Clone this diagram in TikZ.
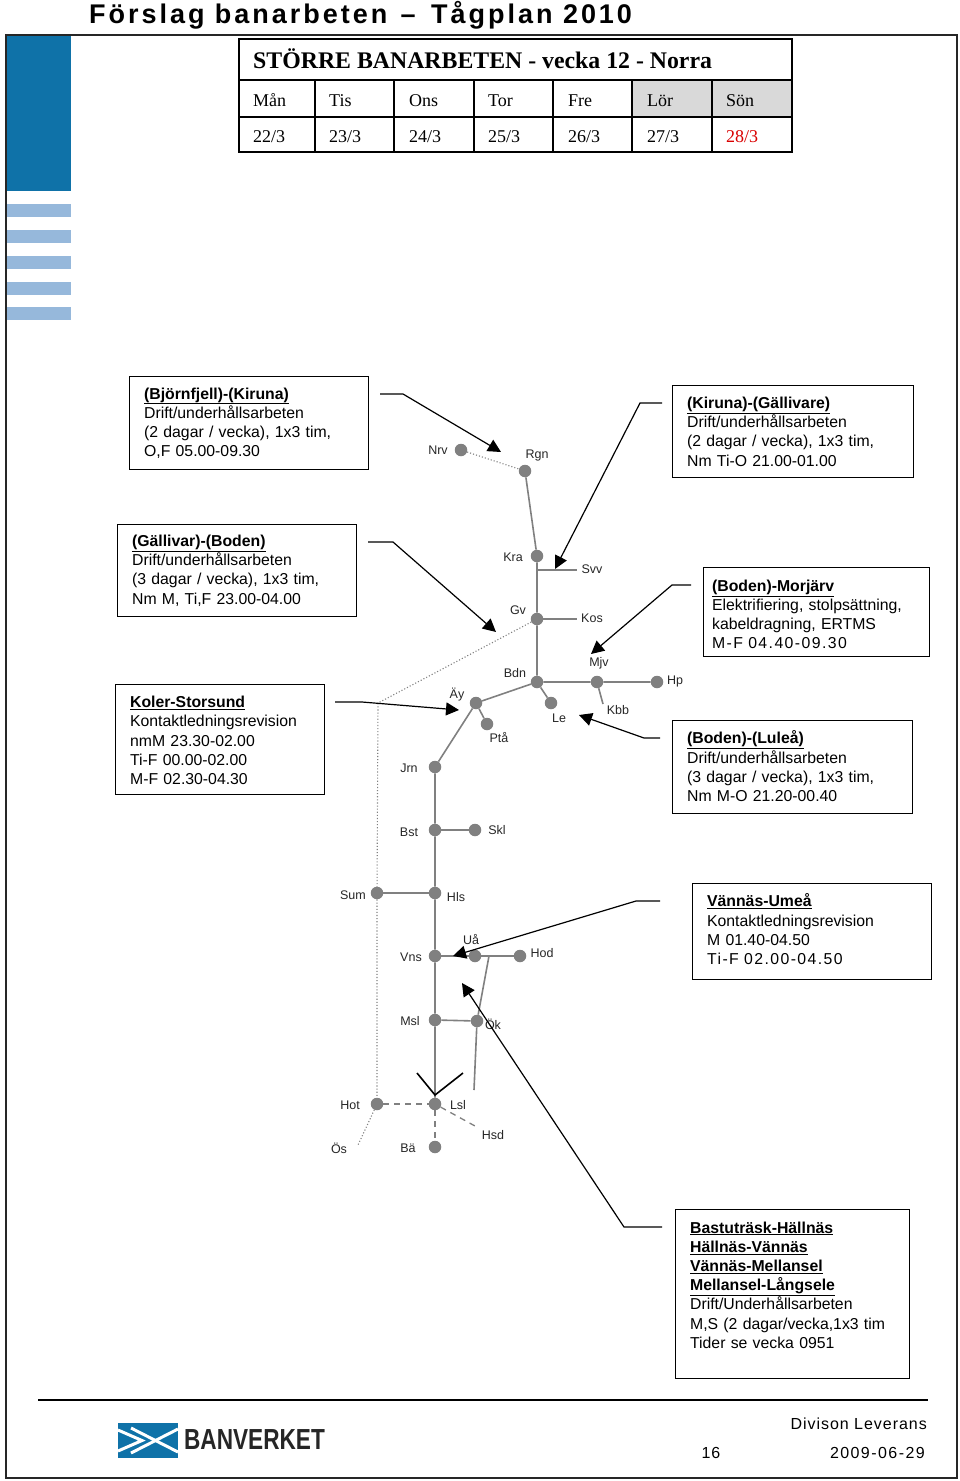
\documentclass[tikz,border=0pt]{standalone}
\usepackage{fontspec}
\setmainfont{Liberation Sans}
\newfontfamily\serifface{Liberation Serif}
\newfontfamily\titleface[LetterSpace=11]{Liberation Sans}
\newfontfamily\spacedface[LetterSpace=9]{Liberation Sans}
\newfontfamily\footface[LetterSpace=6]{Liberation Sans}
\usetikzlibrary{arrows.meta}
\definecolor{banblue}{RGB}{15,114,168}
\definecolor{banpale}{RGB}{150,184,219}
\definecolor{bangray}{RGB}{128,128,128}
\begin{document}
\begin{tikzpicture}[x=1pt,y=-1pt,>={Triangle[length=13pt,width=13pt]},
box/.style={draw=black,line width=1.2pt,anchor=north west,align=left,inner xsep=14.5pt,inner ysep=0pt,font=\fontsize{15.8}{19.2}\selectfont},
stn/.style={circle,fill=bangray,inner sep=0pt,minimum size=12.5pt},
lbl/.style={inner sep=0pt,font=\fontsize{12.5}{15}\selectfont,text=black!85},
track/.style={draw=bangray,line width=1.6pt},
thin dots/.style={draw=bangray,line width=1.1pt,dotted},
thin dash/.style={draw=bangray,line width=1.3pt,dash pattern=on 6pt off 5pt},
callout/.style={->,line width=1.2pt,black},
cell/.style={inner sep=0pt,anchor=base west,font=\serifface\fontsize{18}{20}\selectfont}]
\useasboundingbox (0,0) rectangle (960,1481);
% page
\node[inner sep=0pt,anchor=base west,font=\titleface\bfseries\fontsize{27}{30}\selectfont] (title) at (89,23) {Förslag banarbeten\hspace{3pt} –\hspace{5pt} Tågplan 2010};
\draw[line width=1.6pt,black!85] (6,35) rectangle (957,1478);
\fill[banblue] (7,36) rectangle (71,191);
\foreach \y in {204,230,256,282,307}
  \fill[banpale] (7,\y) rectangle (71,\y+13);
% week table
\fill[black!15] (632,80) rectangle (792,117);
\draw[line width=1.7pt] (239,39) rectangle (792,152) (239,80) -- (792,80) (239,117) -- (792,117);
\foreach \x in {315,394,474,553,632,712}
  \draw[line width=1.7pt] (\x,80) -- (\x,152);
\node[cell,font=\serifface\bfseries\fontsize{23.8}{26}\selectfont] (week) at (253,68) {STÖRRE BANARBETEN - vecka 12 - Norra};
\foreach \d/\x/\t in {mon/253/Mån,tue/329/Tis,wed/409/Ons,thu/488/Tor,fri/568/Fre,sat/647/Lör,sun/726/Sön}
  \node[cell] (\d) at (\x,106) {\t};
\foreach \d/\x/\t in {a/253/22,b/329/23,c/409/24,d/488/25,e/568/26,f/647/27}
  \node[cell] (date\d) at (\x,142) {\t/3};
\node[cell,text=red!85!black] (dateg) at (726,142) {28/3};
% text boxes
\node[box,text width=210pt,minimum height=93pt] (bjorn) at (129,376) {\underline{\textbf{(Björnfjell)-(Kiruna)}}\\Drift/underhållsarbeten\\(2 dagar / vecka), 1x3 tim,\\O,F 05.00-09.30};
\node[box,text width=212pt,minimum height=92pt] (kiruna) at (672,385) {\underline{\textbf{(Kiruna)-(Gällivare)}}\\Drift/underhållsarbeten\\(2 dagar / vecka), 1x3 tim,\\Nm Ti-O 21.00-01.00};
\node[box,text width=210pt,minimum height=92pt] (galliv) at (117,524) {\underline{\textbf{(Gällivar)-(Boden)}}\\Drift/underhållsarbeten\\(3 dagar / vecka), 1x3 tim,\\Nm M, Ti,F 23.00-04.00};
\node[box,text width=180pt,minimum height=110pt] (koler) at (115,684) {\rule{0pt}{13pt}\underline{\textbf{Koler-Storsund}}\\Kontaktledningsrevision\\nmM 23.30-02.00\\Ti-F 00.00-02.00\\M-F 02.30-04.30};
\node[box,inner xsep=8.5pt,text width=209pt,minimum height=89pt] (morjarv) at (703,567) {\rule{0pt}{16pt}\underline{\textbf{(Boden)-Morjärv}}\\Elektrifiering, stolpsättning,\\kabeldragning, ERTMS\\{\spacedface M-F 04.40-09.30}};
\node[box,text width=211pt,minimum height=93pt] (lulea) at (672,720) {\underline{\textbf{(Boden)-(Luleå)}}\\Drift/underhållsarbeten\\(3 dagar / vecka), 1x3 tim,\\Nm M-O 21.20-00.40\rule[-2pt]{0pt}{0pt}};
\node[box,text width=210pt,minimum height=96pt] (vannas) at (692,883) {\underline{\textbf{Vännäs-Umeå}}\\Kontaktledningsrevision\\M 01.40-04.50\\{\spacedface Ti-F 02.00-04.50}\rule[-5pt]{0pt}{0pt}};
\node[box,text width=205pt,minimum height=169pt] (bastu) at (675,1209) {\underline{\textbf{Bastuträsk-Hällnäs}}\\\underline{\textbf{Hällnäs-Vännäs}}\\\underline{\textbf{Vännäs-Mellansel}}\\\underline{\textbf{Mellansel-Långsele}}\\Drift/Underhållsarbeten\\M,S (2 dagar/vecka,1x3 tim\\Tider se vecka 0951\\[-1pt]\mbox{}};
% stations
\foreach \n/\x/\y in {Nrv/461/450,Rgn/525/471,Kra/537/556,Gv/537/619,Bdn/537/682,Mjv/597/682,Hp/657/682,Le/551/703,Ay/476/703,Pta/487/724,Jrn/435/767,Bst/435/830,Skl/475/830,Sum/377/893,Hls/435/893,Vns/435/956,Ua/475/956,Hod/520/956,Msl/435/1020,Ok/477/1021,Lsl/435/1104,Hot/377/1104,Ba/435/1147}
  \node[stn] (\n) at (\x,\y) {};
\coordinate (svvj) at (537,570);
\coordinate (svve) at (577,570);
\coordinate (kose) at (577,619);
\coordinate (kbbe) at (603,704);
\coordinate (dotj) at (378,703);
\coordinate (okj) at (489,956);
\coordinate (oke) at (474,1090);
\coordinate (ose) at (358,1145);
\coordinate (hsde) at (475,1126);
% track
\draw[thin dots] (Nrv) -- (Rgn);
\draw[thin dots] (Gv) -- (dotj) -- (Sum) -- (Hot) -- (ose);
\draw[thin dash] (Hot) -- (Lsl);
\draw[thin dash] (Lsl) -- (Ba);
\draw[thin dash] (Lsl) -- (hsde);
\draw[track] (Rgn) -- (Kra) -- (Gv) -- (Bdn) -- (Mjv) -- (Hp);
\draw[track] (svvj) -- (svve);
\draw[track] (Gv) -- (kose);
\draw[track] (Bdn) -- (Le);
\draw[track] (Mjv) -- (kbbe);
\draw[track] (Bdn) -- (Ay) -- (Jrn) -- (Bst) -- (Hls) -- (Vns) -- (Msl) -- (Lsl);
\draw[track] (Ay) -- (Pta);
\draw[track] (Bst) -- (Skl);
\draw[track] (Sum) -- (Hls);
\draw[track] (Vns) -- (Ua) -- (Hod);
\draw[track] (Msl) -- (Ok);
\draw[track] (okj) -- (Ok) -- (oke);
% station names
\foreach \n/\x/\y/\t in {a/438/450/Nrv,b/537/455/Rgn,c/513/557/Kra,d/592/569/Svv,e/518/610/Gv,f/592/618/Kos,g/515/673/Bdn,h/599/663/Mjv,i/675/681/Hp,j/457/695/Äy,k/499/738/Ptå,l/559/718/Le,m/618/710/Kbb,n/409/768/Jrn,o/409/832/Bst,p/497/830/Skl,q/353/895/Sum,r/456/897/Hls,s/411/957/Vns,t/471/940/Uå,u/542/953/Hod,v/410/1021/Msl,w/493/1024/Ök,x/350/1105/Hot,y/458/1105/Lsl,z/339/1148/Ös,aa/408/1148/Bä,ab/493/1135/Hsd}
  \node[lbl] (name\n) at (\x,\y) {\t};
% callouts
\foreach \n/\ax/\ay/\bx/\by/\tx/\ty in {k1/380/394/403/394/501/452,k2/662/403/640/403/555/569,k3/368/542/393/542/496/632,k4/691/585/672/585/591/654,k5/335/702/362/702/459/710,k6/660/738/644/738/579/715,k7/660/901/636/901/453/956,k8/662/1227/624/1227/462/983}{
  \coordinate (\n s) at (\ax,\ay);
  \coordinate (\n b) at (\bx,\by);
  \coordinate (\n t) at (\tx,\ty);
  \draw[callout] (\n s) -- (\n b) -- (\n t);
}
\coordinate (va) at (417,1073);
\coordinate (vb) at (435,1095);
\coordinate (vc) at (463,1073);
\draw[line width=1.6pt] (va) -- (vb) -- (vc);
% footer
\draw[line width=1.4pt] (38,1400) -- (928,1400);
\fill[banblue] (118,1423) rectangle (178,1458);
\draw[white,line width=3pt] (118,1430) -- (142,1440.5) -- (118,1451);
\draw[white,line width=3pt] (131,1428) -- (178,1452);
\draw[white,line width=3pt] (131,1453) -- (178,1429);
\node[inner sep=0pt,anchor=west,xscale=.78,transform shape,font=\bfseries\fontsize{29}{30}\selectfont,text=black!85] (logotext) at (184,1440) {BANVERKET};
\node[inner sep=0pt,anchor=base east,font=\footface\fontsize{16}{18}\selectfont] (divison) at (927,1429) {Divison Leverans};
\node[inner sep=0pt,anchor=base,font=\footface\fontsize{16}{18}\selectfont] (page) at (711,1458) {16};
\node[inner sep=0pt,anchor=base east,font=\spacedface\fontsize{16}{18}\selectfont] (date) at (925,1458) {2009-06-29};
\end{tikzpicture}
\end{document}
